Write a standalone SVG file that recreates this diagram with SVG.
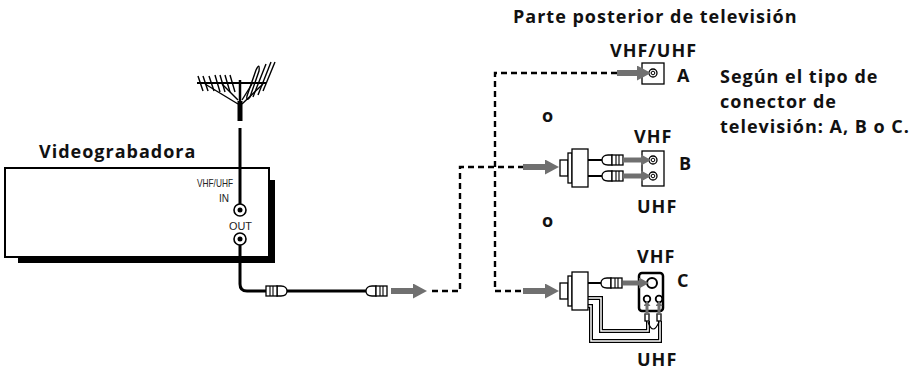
<svg xmlns="http://www.w3.org/2000/svg" width="918" height="371" viewBox="0 0 918 371">
<defs>
<style>
.t{font-family:"Open Sans","Noto Sans","DejaVu Sans",sans-serif;font-weight:bold;font-size:18px;letter-spacing:1px;fill:#111}
.s{font-family:"Liberation Sans","Arial",sans-serif;font-size:10.5px;fill:#222}
.k{fill:none;stroke:#000}
.w{fill:#fff;stroke:#000;stroke-width:1.3}
.dash{fill:none;stroke:#000;stroke-width:2.4;stroke-dasharray:6 4}
.ga{stroke:#707070;fill:none}
</style>
<marker id="ahL" markerUnits="userSpaceOnUse" markerWidth="14" markerHeight="15" refX="0" refY="7.5" orient="auto" viewBox="0 0 14 15"><path d="M0,0 L14,7.5 L0,15 z" fill="#707070"/></marker>
<marker id="ahS" markerUnits="userSpaceOnUse" markerWidth="10" markerHeight="11" refX="0" refY="5.5" orient="auto" viewBox="0 0 10 11"><path d="M0,0 L10,5.5 L0,11 z" fill="#707070"/></marker>
<marker id="ahT" markerUnits="userSpaceOnUse" markerWidth="5" markerHeight="7" refX="0" refY="3.5" orient="auto" viewBox="0 0 5 7"><path d="M0,0 L5,3.5 L0,7 z" fill="#707070"/></marker>
<g id="plug">
<path d="M10,-5 H6 C2,-5 0,-3 0,0 C0,3 2,5 6,5 H10 Z" class="w"/>
<rect x="10" y="-5" width="11" height="10" class="w"/>
<line x1="14" y1="-5" x2="14" y2="5" stroke="#000" stroke-width="1.1"/>
<line x1="17" y1="-5" x2="17" y2="5" stroke="#000" stroke-width="1.1"/>
</g>
<g id="adapter">
<rect x="0" y="-8" width="8" height="16" class="w"/>
<rect x="8" y="-15" width="4" height="30" class="w"/>
<rect x="12" y="-19" width="16" height="38" class="w"/>
</g>
</defs>

<g id="title-tv"><text class="t" x="513" y="23">Parte posterior de televisión</text></g>
<g id="note">
<text class="t" x="720" y="83" letter-spacing="1.2">Según el tipo de</text>
<text class="t" x="720" y="108" letter-spacing="1.2">conector de</text>
<text class="t" x="720" y="133" letter-spacing="1.2">televisión: A, B o C.</text>
</g>

<g id="vcr">
<rect x="18" y="180" width="257" height="83" fill="#000"/>
<rect x="5" y="168" width="264" height="89" fill="#fff" stroke="#000" stroke-width="2"/>
<text class="t" x="39" y="158" font-size="19" letter-spacing="1.2">Videograbadora</text>
<text class="s" x="197" y="187" textLength="36" lengthAdjust="spacingAndGlyphs">VHF/UHF</text>
<text class="s" x="219" y="202" textLength="10" lengthAdjust="spacingAndGlyphs">IN</text>
<text class="s" x="229" y="230" textLength="23" lengthAdjust="spacingAndGlyphs">OUT</text>
<circle cx="240" cy="210" r="6" fill="#fff" stroke="#000" stroke-width="1.6"/>
<circle cx="240" cy="210" r="2.5" fill="#000"/>
<circle cx="240" cy="239" r="6" fill="#fff" stroke="#000" stroke-width="1.6"/>
<circle cx="240" cy="239" r="2.5" fill="#000"/>
</g>

<g id="antenna" stroke="#000" fill="none">
<line x1="197" y1="83" x2="266" y2="83" stroke-width="1.8"/>
<g stroke-width="1.4">
<line x1="198" y1="76" x2="203" y2="91"/>
<line x1="203" y1="76" x2="208" y2="91"/>
<line x1="209" y1="76" x2="214" y2="91"/>
<line x1="215" y1="75" x2="220" y2="92"/>
<line x1="220" y1="75" x2="225" y2="92"/>
<line x1="225" y1="75" x2="230" y2="92"/>
<line x1="230" y1="75" x2="235" y2="92"/>
<path d="M247,96 L256,70 Q260,62 259,71 L250,97 Q246,102 247,96 Z"/>
<line x1="253" y1="97" x2="266" y2="64"/>
<line x1="258" y1="95" x2="271" y2="62"/>
<line x1="263" y1="91" x2="275" y2="62"/>
<line x1="205" y1="84" x2="238" y2="104"/>
<line x1="222" y1="84" x2="238" y2="100"/>
<line x1="263" y1="84" x2="242" y2="104"/>
<line x1="252" y1="84" x2="242" y2="100"/>
</g>
<line x1="240" y1="80" x2="240" y2="121" stroke-width="2.5"/>
<rect x="237.5" y="101" width="5" height="20" fill="#000" stroke="none"/>
</g>

<g id="rf-cable">
<line x1="240" y1="128" x2="240" y2="204" stroke="#000" stroke-width="3"/>
<path d="M240,245 V284 Q240,291 247,291 H266" class="k" stroke-width="3"/>
<line x1="287" y1="291" x2="366" y2="291" stroke="#000" stroke-width="3"/>
<use href="#plug" transform="translate(287,291) scale(-1,1)"/>
<use href="#plug" transform="translate(366,291)"/>
</g>

<g id="tv-a">
<text class="t" x="610" y="57">VHF/UHF</text>
<text class="t" x="677" y="82">A</text>
<rect x="642" y="63" width="22" height="21" class="w" stroke-width="1.5"/>
<circle cx="653" cy="73" r="4" fill="#fff" stroke="#000" stroke-width="1.3"/>
<circle cx="653" cy="73" r="1.8" fill="none" stroke="#000" stroke-width="1"/>
</g>

<g id="sep"><text class="t" x="542" y="122">o</text><text class="t" x="542" y="227">o</text></g>

<g id="tv-b">
<text class="t" x="634" y="143">VHF</text>
<text class="t" x="679" y="170">B</text>
<text class="t" x="637" y="213">UHF</text>
<rect x="642" y="151" width="22" height="35" class="w" stroke-width="1.5"/>
<circle cx="653" cy="160" r="4" fill="#fff" stroke="#000" stroke-width="1.3"/>
<circle cx="653" cy="160" r="1.8" fill="none" stroke="#000" stroke-width="1"/>
<circle cx="653" cy="176" r="4" fill="#fff" stroke="#000" stroke-width="1.3"/>
<circle cx="653" cy="176" r="1.8" fill="none" stroke="#000" stroke-width="1"/>
</g>

<g id="adapter-b">
<line x1="588" y1="160" x2="603" y2="160" stroke="#000" stroke-width="2"/>
<line x1="588" y1="176" x2="603" y2="176" stroke="#000" stroke-width="2"/>
<use href="#adapter" transform="translate(560,168)"/>
<use href="#plug" transform="translate(602,160)"/>
<use href="#plug" transform="translate(602,176)"/>
</g>

<g id="tv-c">
<text class="t" x="637" y="263">VHF</text>
<text class="t" x="677" y="287">C</text>
<text class="t" x="637" y="366">UHF</text>
<rect x="639" y="273" width="24" height="38" rx="3" fill="#fff" stroke="#000" stroke-width="2.5"/>
<circle cx="652" cy="283" r="5" fill="#fff" stroke="#000" stroke-width="2"/>
<circle cx="647" cy="299" r="3.3" fill="#fff" stroke="#000" stroke-width="1.8"/>
<circle cx="659" cy="299" r="3.3" fill="#fff" stroke="#000" stroke-width="1.8"/>
</g>

<g id="adapter-c">
<path d="M588,298 H601 V331 H648 V321" class="k" stroke-width="4"/>
<path d="M588,298 H601 V331 H648 V321" fill="none" stroke="#fff" stroke-width="1.5"/>
<path d="M588,306 H591 V341 H660 V321" class="k" stroke-width="4"/>
<path d="M588,306 H591 V341 H660 V321" fill="none" stroke="#fff" stroke-width="1.5"/>
<path d="M648,322 Q653,336 659,322" class="k" stroke-width="1.2"/>
<rect x="645" y="314" width="4" height="7" class="w" stroke-width="1.2"/>
<rect x="657" y="314" width="4" height="7" class="w" stroke-width="1.2"/>
<line x1="588" y1="283" x2="602" y2="283" stroke="#000" stroke-width="2"/>
<use href="#adapter" transform="translate(560,291)"/>
<use href="#plug" transform="translate(601,283)"/>
</g>

<g id="connectors">
<path class="dash" d="M432,291 H460 V167 H524"/>
<path class="dash" d="M617,73 H495 V291 H524"/>
<line class="ga" x1="391" y1="291" x2="413" y2="291" stroke-width="6" marker-end="url(#ahL)"/>
<line class="ga" x1="617" y1="73" x2="637" y2="73" stroke-width="6" marker-end="url(#ahL)"/>
<line class="ga" x1="523" y1="167" x2="545" y2="167" stroke-width="6" marker-end="url(#ahL)"/>
<line class="ga" x1="523" y1="291" x2="545" y2="291" stroke-width="6" marker-end="url(#ahL)"/>
<line class="ga" x1="623" y1="160" x2="641" y2="160" stroke-width="5" marker-end="url(#ahS)"/>
<line class="ga" x1="623" y1="176" x2="641" y2="176" stroke-width="5" marker-end="url(#ahS)"/>
<line class="ga" x1="623" y1="283" x2="639" y2="283" stroke-width="5" marker-end="url(#ahS)"/>
<line class="ga" x1="647" y1="315" x2="647" y2="306" stroke-width="3" marker-end="url(#ahT)"/>
<line class="ga" x1="659" y1="315" x2="659" y2="306" stroke-width="3" marker-end="url(#ahT)"/>
</g>
</svg>
